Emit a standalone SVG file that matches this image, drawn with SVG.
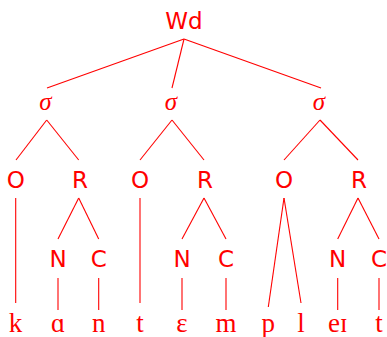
<svg xmlns="http://www.w3.org/2000/svg" width="387" height="337" viewBox="0 0 387 337">
<style>
.s{font-family:"DejaVu Sans",sans-serif;font-size:23px;fill:#ff0000;text-anchor:middle}
.g{font-family:"Liberation Serif","DejaVu Serif",serif;font-style:italic;font-size:25px;fill:#ff0000;text-anchor:middle}
.p{font-family:"Liberation Serif","DejaVu Serif",serif;font-size:27px;fill:#ff0000;text-anchor:middle}
#edges line{stroke:#ff0000;stroke-width:1.1}
</style>
<rect width="387" height="337" fill="#ffffff"/>
<g id="edges">
<line x1="184" y1="39" x2="47" y2="88"/>
<line x1="184" y1="39" x2="172" y2="88"/>
<line x1="184" y1="39" x2="321" y2="88"/>
<line x1="46.7" y1="120" x2="16" y2="160"/>
<line x1="46.7" y1="120" x2="78.7" y2="160"/>
<line x1="172" y1="120" x2="140" y2="160"/>
<line x1="172" y1="120" x2="204" y2="160"/>
<line x1="320" y1="120" x2="284" y2="160"/>
<line x1="320" y1="120" x2="358" y2="160"/>
<line x1="15.7" y1="198" x2="15.7" y2="303"/>
<line x1="78.7" y1="198" x2="58" y2="239"/>
<line x1="78.7" y1="198" x2="98.7" y2="239"/>
<line x1="58" y1="278" x2="58" y2="310"/>
<line x1="98.7" y1="278" x2="98.7" y2="310"/>
<line x1="140" y1="198" x2="140" y2="303"/>
<line x1="204" y1="198" x2="182" y2="239"/>
<line x1="204" y1="198" x2="226" y2="239"/>
<line x1="182" y1="278" x2="182" y2="310"/>
<line x1="226" y1="278" x2="226" y2="310"/>
<line x1="284" y1="198" x2="268.3" y2="307"/>
<line x1="284" y1="198" x2="301" y2="303"/>
<line x1="358" y1="198" x2="337.7" y2="239"/>
<line x1="358" y1="198" x2="379" y2="239"/>
<line x1="337.7" y1="278" x2="337.7" y2="310"/>
<line x1="379" y1="278" x2="379" y2="310"/>
</g>
<g id="wd"><text class="s" x="184" y="28.5">Wd</text></g>
<g id="syl1"><text class="g" x="45.5" y="110">σ</text></g>
<g id="syl2"><text class="g" x="171" y="110">σ</text></g>
<g id="syl3"><text class="g" x="319" y="110">σ</text></g>
<g id="o1"><text class="s" x="15.7" y="188.3">O</text></g>
<g id="r1"><text class="s" x="80" y="188.3">R</text></g>
<g id="o2"><text class="s" x="140" y="188.3">O</text></g>
<g id="r2"><text class="s" x="205" y="188.3">R</text></g>
<g id="o3"><text class="s" x="284" y="188.3">O</text></g>
<g id="r3"><text class="s" x="359" y="188.3">R</text></g>
<g id="n1"><text class="s" x="58" y="266.7">N</text></g>
<g id="c1"><text class="s" x="98.7" y="266.7">C</text></g>
<g id="n2"><text class="s" x="182" y="266.7">N</text></g>
<g id="c2"><text class="s" x="226" y="266.7">C</text></g>
<g id="n3"><text class="s" x="337.7" y="266.7">N</text></g>
<g id="c3"><text class="s" x="379" y="266.7">C</text></g>
<g id="seg-k"><text class="p" x="15.5" y="331.7">k</text></g>
<g id="seg-a"><text class="p" x="58" y="331.7">ɑ</text></g>
<g id="seg-n"><text class="p" x="98.7" y="331.7">n</text></g>
<g id="seg-t1"><text class="p" x="140" y="331.7">t</text></g>
<g id="seg-e"><text class="p" x="182" y="331.7">ɛ</text></g>
<g id="seg-m"><text class="p" x="226" y="331.7">m</text></g>
<g id="seg-p"><text class="p" x="268.3" y="331.7">p</text></g>
<g id="seg-l"><text class="p" x="301" y="331.7">l</text></g>
<g id="seg-ei"><text class="p" x="337.7" y="331.7">eɪ</text></g>
<g id="seg-t2"><text class="p" x="379" y="331.7">t</text></g>
</svg>
